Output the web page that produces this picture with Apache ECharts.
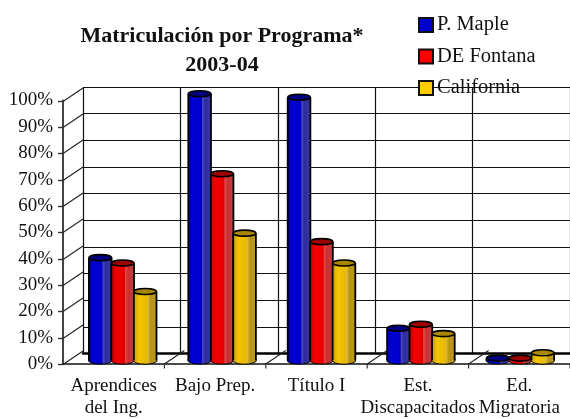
<!DOCTYPE html>
<html>
<head>
<meta charset="utf-8">
<style>html,body{margin:0;padding:0;background:#fff}#c{width:570px;height:419px}</style>
<script src="https://cdn.jsdelivr.net/npm/echarts@6/dist/echarts.min.js"></script>
</head>
<body>
<div id="c"></div>
<script>
var categories = ['Aprendices\ndel Ing.', 'Bajo Prep.', 'Título I', 'Est.\nDiscapacitados', 'Ed.\nMigratoria'];
var yTicks = [0, 10, 20, 30, 40, 50, 60, 70, 80, 90, 100];
var pMaple = [38.5, 100, 98.7, 12, 0.8];
var deFontana = [36.5, 70, 44.5, 13.5, 0.8];
var california = [25.8, 47.7, 36.5, 10, 2.8];

var SERIF = '"Liberation Serif","Times New Roman",serif';
var DX = 20, DY = 13.5;
var L = 63, T = 100.5, B = 52, W = 513;
function grid(k) {
  return { left: L + DX * k, top: T - DY * k, width: W, height: 419 - T - B, containLabel: false };
}
function catAxis(i, show) {
  return { type: 'category', gridIndex: i, data: categories, boundaryGap: true,
    axisLine: { show: false }, axisTick: { show: false }, axisLabel: { show: false }, splitLine: { show: false } };
}
function valAxis(i) {
  return { type: 'value', gridIndex: i, min: 0, max: 100, interval: 10,
    axisLine: { show: false }, axisTick: { show: false }, axisLabel: { show: false }, splitLine: { show: false } };
}
var shades = {
  '#0000cc': { top: '#000080', stops: ['#00009a', '#0000d8', '#0000c8', '#4a4ab8', '#2c2ca4', '#3a3aa0'] },
  '#ff0000': { top: '#9c0000', stops: ['#c00000', '#f40000', '#e80000', '#e04a4a', '#c83030', '#c04040'] },
  '#ffcc00': { top: '#a88600', stops: ['#c49c00', '#f4c400', '#e8ba00', '#dcbc48', '#b89410', '#b89820'] }
};
function cylinder(idx, color) {
  return function (params, api) {
    var cat = api.value(0), val = api.value(1);
    var size = api.size([1, 0])[0];
    var base = api.coord([cat, 0]);
    var top = api.coord([cat, val]);
    var w = size * 0.228, cx = base[0] + (idx - 1) * size * 0.226, rx = w / 2;
    var s = shades[color];
    var fill = { type: 'linear', x: 0, y: 0, x2: 1, y2: 0, colorStops: [
      { offset: 0, color: s.stops[0] }, { offset: 0.22, color: s.stops[1] }, { offset: 0.58, color: s.stops[2] },
      { offset: 0.62, color: s.stops[3] }, { offset: 0.74, color: s.stops[4] }, { offset: 1, color: s.stops[5] } ] };
    var line = { stroke: '#000', lineWidth: 1.8 };
    return { type: 'group', children: [
      { type: 'ellipse', shape: { cx: cx, cy: base[1], rx: rx, ry: 3.4 }, style: { fill: s.stops[0], stroke: '#000', lineWidth: 1.8 } },
      { type: 'rect', shape: { x: cx - rx, y: top[1], width: w, height: base[1] - top[1] }, style: { fill: fill } },
      { type: 'ellipse', shape: { cx: cx, cy: base[1], rx: rx, ry: 3.4 }, style: { fill: fill, stroke: 'none' } },
      { type: 'line', shape: { x1: cx - rx, y1: top[1], x2: cx - rx, y2: base[1] }, style: line },
      { type: 'line', shape: { x1: cx + rx, y1: top[1], x2: cx + rx, y2: base[1] }, style: line },
      { type: 'ellipse', shape: { cx: cx, cy: top[1], rx: rx, ry: 3 }, style: { fill: s.top, stroke: '#000', lineWidth: 1.6 } }
    ] };
  };
}
function barSeries(name, values, color, idx) {
  return { name: name, type: 'custom', xAxisIndex: 1, yAxisIndex: 1, clip: false, z: 5 + idx,
    itemStyle: { color: color },
    data: values.map(function (v, i) { return [i, v]; }),
    encode: { x: 0, y: 1 }, renderItem: cylinder(idx, color) };
}
/* Floor and side-wall lines, driven by the axis ticks */
var wallSeries = {
  type: 'custom', xAxisIndex: 0, yAxisIndex: 0, clip: false, z: 2, silent: true, legendHoverLink: false,
  data: yTicks.map(function (t) { return [0, t]; }),
  renderItem: function (p, api) {
    var pt = api.coord([0, api.value(1)]);
    var x0 = pt[0] - api.size([1, 0])[0] / 2;
    var y = Math.round(pt[1]) + 0.5;
    return { type: 'group', children: [
      { type: 'line', shape: { x1: x0, y1: y, x2: x0 + DX, y2: y - DY }, style: { stroke: '#222', lineWidth: 1.1 } },
      { type: 'line', shape: { x1: x0 - 5, y1: y, x2: x0, y2: y }, style: { stroke: '#333', lineWidth: 1.4 } }
    ] };
  }
};
var floorSeries = {
  type: 'custom', xAxisIndex: 0, yAxisIndex: 0, clip: false, z: 2, silent: true,
  data: categories.map(function (c, i) { return [i, 0]; }),
  renderItem: function (p, api) {
    var pt = api.coord([api.value(0), 0]);
    var sz = api.size([1, 0])[0];
    var x = pt[0] + sz / 2;
    return { type: 'group', children: [
      { type: 'line', shape: { x1: x, y1: pt[1] + 4.5, x2: x, y2: pt[1] }, style: { stroke: '#333', lineWidth: 1.2 } },
      { type: 'line', shape: { x1: x, y1: pt[1], x2: x + DX, y2: pt[1] - DY }, style: { stroke: '#222', lineWidth: 1.1 } }
    ] };
  }
};

var option = {
  backgroundColor: '#fff',
  animation: false,
  title: { text: 'Matriculación por Programa*\n2003-04', left: 217, top: 17, textAlign: 'center',
    textStyle: { fontFamily: SERIF, fontWeight: 'bold', fontSize: 22, lineHeight: 29, color: '#111' } },
  legend: { orient: 'vertical', left: 413, top: 9.5, itemWidth: 14, itemHeight: 14, itemGap: 10.5,
    icon: 'rect', selectedMode: false, data: ['P. Maple', 'DE Fontana', 'California'],
    itemStyle: { borderColor: '#111', borderWidth: 2 },
    textStyle: { fontFamily: SERIF, fontSize: 20.5, color: '#111', padding: [0, 0, 0, -1] } },
  grid: [grid(0), grid(0.5), grid(1)],
  xAxis: [
    { type: 'category', gridIndex: 0, data: categories, boundaryGap: true,
      axisLine: { show: true, onZero: false, lineStyle: { color: '#111', width: 1.5 } }, axisTick: { show: false },
      axisLabel: { interval: 0, fontFamily: SERIF, fontSize: 19, lineHeight: 22, color: '#111', margin: 11, hideOverlap: false },
      splitLine: { show: false } },
    catAxis(1),
    { type: 'category', gridIndex: 2, data: categories, boundaryGap: true,
      axisLine: { show: true, onZero: false, lineStyle: { color: '#000', width: 2.5 } }, axisTick: { show: false },
      axisLabel: { show: false },
      splitLine: { show: true, interval: 0, lineStyle: { color: '#111', width: 1.2 } } }
  ],
  yAxis: [
    { type: 'value', gridIndex: 0, min: 0, max: 100, interval: 10,
      axisLine: { show: true, lineStyle: { color: '#444', width: 2 } }, axisTick: { show: false },
      axisLabel: { fontFamily: SERIF, fontSize: 19, color: '#111', margin: 10, formatter: '{value}%' },
      splitLine: { show: false } },
    valAxis(1),
    { type: 'value', gridIndex: 2, min: 0, max: 100, interval: 10,
      axisLine: { show: false }, axisTick: { show: false }, axisLabel: { show: false },
      splitLine: { show: true, lineStyle: { color: '#111', width: 1.2 } } }
  ],
  series: [
    wallSeries, floorSeries,
    barSeries('P. Maple', pMaple, '#0000cc', 0),
    barSeries('DE Fontana', deFontana, '#ff0000', 1),
    barSeries('California', california, '#ffcc00', 2)
  ]
};
echarts.init(document.getElementById('c'), null, { renderer: 'canvas' }).setOption(option);
</script>
</body>
</html>
